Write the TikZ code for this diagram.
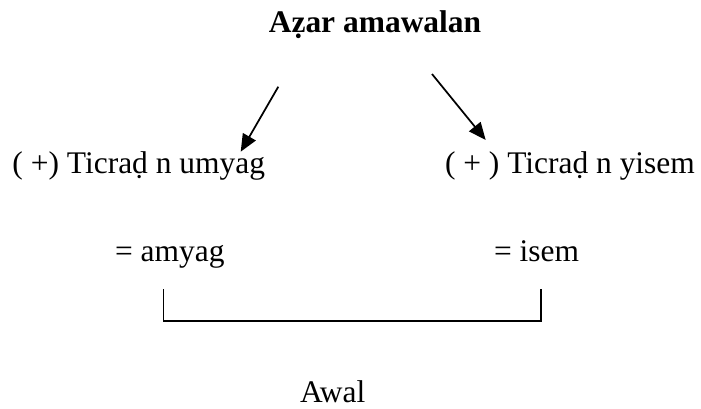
\documentclass[tikz,border=0pt]{standalone}
\usepackage{fontspec}
\setmainfont{Liberation Serif}
\usetikzlibrary{arrows.meta}
\begin{document}
\begin{tikzpicture}[x=0.75pt,y=-0.75pt,
  lbl/.style={inner sep=0pt,outer sep=0pt,anchor=base west,font=\fontsize{23.6}{28}\selectfont},
  ttl/.style={inner sep=0pt,outer sep=0pt,anchor=base,font=\fontsize{23.6}{28}\selectfont\bfseries},
  arr/.style={line width=1.3pt,-{Triangle[length=13pt,width=11pt]}},
  brk/.style={line width=1.2pt}]
\useasboundingbox (0,0) rectangle (701,408);
\node[ttl] (title) at (375,32.7) {Aẓar amawalan};
\node[lbl] (left) at (12.5,173) {( +) Ticraḍ n umyag};
\node[lbl] (right) at (445,173) {( + ) Ticraḍ n yisem};
\node[lbl] (amyag) at (115,261.7) {= amyag};
\node[lbl] (isem) at (494,261.7) {= isem};
\node[lbl] (awal) at (300,402.7) {Awal};
\coordinate (la) at (278.3,86.7);
\coordinate (lb) at (240.7,151.7);
\coordinate (ra) at (432,74);
\coordinate (rb) at (485.7,140);
\coordinate (b1) at (163.3,289.3);
\coordinate (b2) at (163.3,320.7);
\coordinate (b3) at (540.7,320.7);
\coordinate (b4) at (540.7,289.3);
\draw[arr] (la) -- (lb);
\draw[arr] (ra) -- (rb);
\draw[brk] (b1) -- (b2) -- (b3) -- (b4);
\end{tikzpicture}
\end{document}
